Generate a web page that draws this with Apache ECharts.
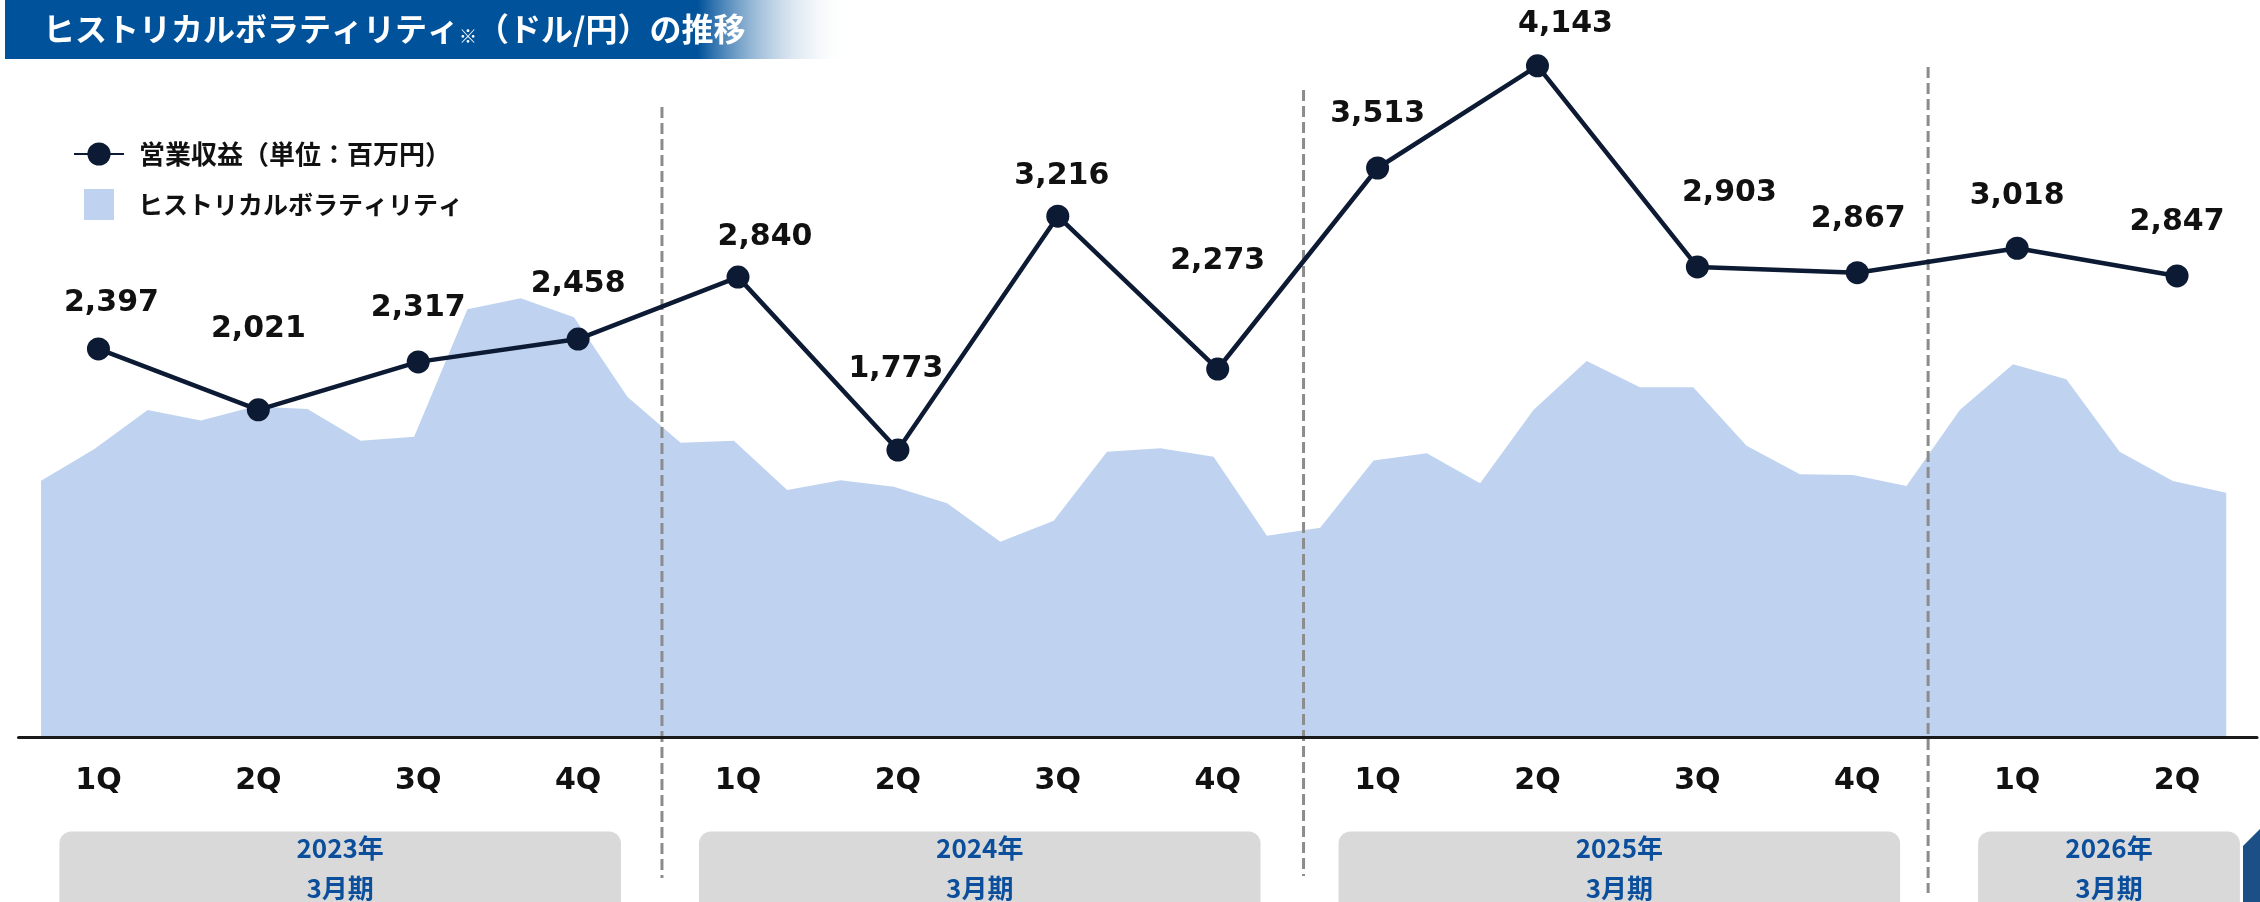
<!DOCTYPE html>
<html>
<head>
<meta charset="utf-8">
<script src="https://cdn.jsdelivr.net/npm/echarts@6/dist/echarts.min.js"></script>
<style>
html, body { margin: 0; padding: 0; background: #fff; }
#container { width: 2260px; height: 902px; }
</style>
</head>
<body>
<div id="container"></div>
<script>
// 四半期と営業収益（百万円）
const quarters = ['1Q', '2Q', '3Q', '4Q', '1Q', '2Q', '3Q', '4Q', '1Q', '2Q', '3Q', '4Q', '1Q', '2Q'];
const revenue = [2397, 2021, 2317, 2458, 2840, 1773, 3216, 2273, 3513, 4143, 2903, 2867, 3018, 2847];

// ヒストリカルボラティリティ（月次, %）
const volatility = [
  8.80, 9.89, 11.22, 10.86, 11.34, 11.26, 10.17, 10.31, 14.68, 15.05, 14.40, 11.68,
  10.10, 10.17, 8.48, 8.82, 8.59, 8.03, 6.71, 7.43, 9.79, 9.91, 9.62, 6.91,
  7.19, 9.49, 9.74, 8.71, 11.22, 12.90, 12.00, 12.00, 10.00, 9.02, 9.00, 8.62,
  11.22, 12.79, 12.28, 9.79, 8.79, 8.39
];

// 決算期と四半期数
const fiscalYears = ['2023年', '2024年', '2025年', '2026年'];
const quartersPerYear = [4, 4, 4, 2];

// label placement: [dx, lift above marker]
const labelNudge = [[13, 47], [0, 82], [0, 55], [0, 56], [27, 41], [-2, 82], [4, 41],
  [0, 109], [0, 55], [28, 43], [32, 75], [1, 55], [0, 54], [0, 55]];
const dividerLook = [{ dx: 8, top: 107, bottom: 878 }, { dx: 10, top: 90, bottom: 876 }, { dx: -5, top: 67, bottom: 893 }];

const NAVY = '#0D1A33';
const AREA = '#BFD3F0';
const JP = 'Noto Sans CJK JP';

// month ranges of each fiscal year
let boxes = [];
let q = 0;
quartersPerYear.forEach(n => {
  boxes.push([q * 3, (q + n) * 3 - 1, 0]);
  q += n;
});
let dividers = boxes.slice(0, -1).map(b => [b[1] + 0.5, 0]);

let options = {
  animation: false,
  grid: [
    { left: 18.5, right: 3, top: 8, bottom: 164.5 },
    { left: 14.4, right: 7.1, top: 8, bottom: 164.5 }
  ],
  legend: [
    {
      data: [{ name: '営業収益（単位：百万円）' }],
      left: 68, top: 136,
      itemWidth: 50, itemHeight: 29,
      selectedMode: false,
      textStyle: { fontFamily: JP, fontWeight: 'bold', fontSize: 26, color: '#111', padding: [0, 0, 0, 10] }
    },
    {
      data: [{ name: 'ヒストリカルボラティリティ', icon: 'rect' }],
      left: 79, top: 184,
      itemWidth: 30, itemHeight: 31,
      selectedMode: false,
      textStyle: { fontFamily: JP, fontWeight: 'bold', fontSize: 25, color: '#111', padding: [0, 0, 0, 19] }
    }
  ],
  xAxis: [
    {
      type: 'category',
      gridIndex: 0,
      data: quarters,
      boundaryGap: true,
      z: 3,
      axisLine: { show: true, lineStyle: { color: '#1a1a1a', width: 3 } },
      axisTick: { show: false },
      axisLabel: { interval: 0, margin: 29, fontFamily: 'DejaVu Sans', fontWeight: 'bold', fontSize: 30, color: '#111' },
      splitLine: { show: false }
    },
    { type: 'value', gridIndex: 1, min: -0.5, max: 41.5, show: false }
  ],
  yAxis: [
    { type: 'value', gridIndex: 0, min: 0, max: 4500, show: false },
    { type: 'value', gridIndex: 1, min: 0, max: 25, show: false }
  ],
  graphic: [
    {
      type: 'rect', x: 5, y: 0,
      shape: { width: 845, height: 59 },
      style: {
        fill: new echarts.graphic.LinearGradient(0, 0, 1, 0, [
          { offset: 0, color: '#00529B' },
          { offset: 0.82, color: '#00529B' },
          { offset: 1, color: 'rgba(255,255,255,0)' }
        ])
      }
    },
    {
      type: 'text', x: 43, y: 29,
      style: {
        text: '{a|ヒストリカルボラティリティ}{b|※}{a|（ドル/円）の推移}',
        fill: '#fff',
        verticalAlign: 'middle',
        rich: {
          a: { fill: '#fff', fontFamily: JP, fontWeight: 'bold', fontSize: 32 },
          b: { fill: '#fff', fontFamily: JP, fontWeight: 'bold', fontSize: 18, verticalAlign: 'bottom' }
        }
      }
    },
    {
      type: 'polygon',
      shape: { points: [[2260, 829], [2243, 846], [2243, 902], [2260, 902]] },
      style: { fill: '#1B4F85' }
    }
  ],
  series: [
    {
      name: 'ヒストリカルボラティリティ',
      type: 'line',
      xAxisIndex: 1, yAxisIndex: 1,
      data: volatility.map((v, i) => [i, v]),
      symbol: 'none',
      lineStyle: { width: 0 },
      itemStyle: { color: AREA },
      areaStyle: { color: AREA, opacity: 1 },
      z: 1
    },
    {
      name: 'dividers',
      type: 'custom',
      xAxisIndex: 1, yAxisIndex: 1,
      data: dividers,
      encode: { x: 0, y: 1 },
      z: 2,
      renderItem: (params, api) => {
        let look = dividerLook[params.dataIndex];
        let x = api.coord([api.value(0), 0])[0] + look.dx;
        return {
          type: 'line',
          shape: { x1: x, y1: look.top, x2: x, y2: look.bottom },
          style: { stroke: '#8C8C8C', lineWidth: 3, lineDash: [11, 5] }
        };
      }
    },
    {
      name: 'years',
      type: 'custom',
      xAxisIndex: 1, yAxisIndex: 1,
      data: boxes,
      encode: { x: [0, 1], y: 2 },
      z: 2,
      renderItem: (params, api) => {
        let i = params.dataIndex;
        let left = api.coord([api.value(0) - 0.5, 0])[0] + 45;
        let right = api.coord([api.value(1) + 0.5, 0])[0] - (i === fiscalYears.length - 1 ? 13 : 33);
        let base = api.coord([0, 0])[1];
        return {
          type: 'group',
          children: [
            {
              type: 'rect',
              shape: { x: left, y: base + 94, width: right - left, height: 90, r: 12 },
              style: { fill: '#D9D9D9' }
            },
            {
              type: 'text',
              style: {
                text: fiscalYears[i] + '\n3月期',
                x: (left + right) / 2, y: base + 131,
                align: 'center', verticalAlign: 'middle',
                lineHeight: 40,
                fontFamily: JP, fontWeight: 'bold', fontSize: 26,
                fill: '#0B4F9C'
              }
            }
          ]
        };
      }
    },
    {
      name: '営業収益（単位：百万円）',
      type: 'line',
      xAxisIndex: 0, yAxisIndex: 0,
      data: revenue.map((v, i) => ({
        value: v,
        label: { offset: [labelNudge[i][0], -(labelNudge[i][1] - 28)] }
      })),
      symbol: 'circle',
      symbolSize: 23,
      lineStyle: { color: NAVY, width: 4.5 },
      itemStyle: { color: NAVY },
      label: {
        show: true,
        position: 'top',
        distance: 0,
        formatter: p => p.value.toLocaleString('en-US'),
        fontFamily: 'DejaVu Sans',
        fontWeight: 'bold',
        fontSize: 30,
        color: '#111'
      },
      z: 5
    }
  ]
};

let mychart = echarts.init(document.getElementById('container'));
mychart.setOption(options);
window.addEventListener('resize', () => { mychart.resize() });
</script>
</body>
</html>
